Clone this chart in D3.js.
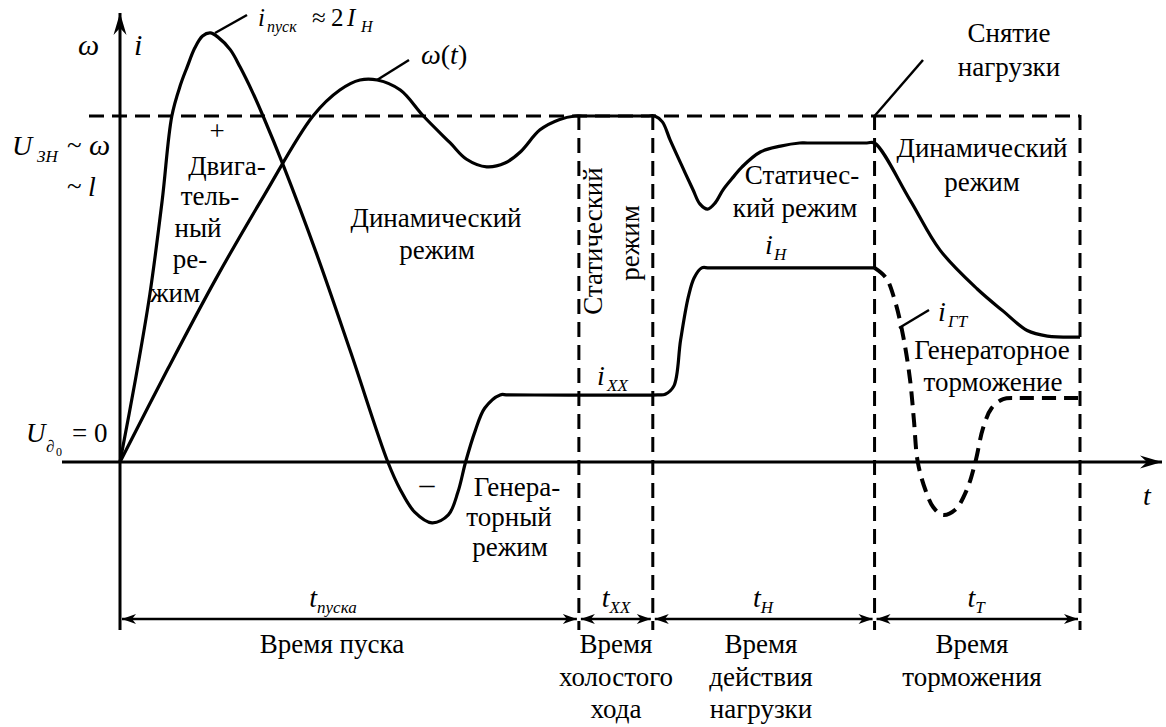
<!DOCTYPE html>
<html><head><meta charset="utf-8">
<script src="https://cdn.jsdelivr.net/npm/d3@7"></script>
</head><body style="margin:0">
<div id="wrap" style="position:relative;width:1166px;height:727px;background:#fff">
  <svg id="chart" width="1166" height="727" style="position:absolute;left:0;top:0"></svg>
  <div id="labels" style="position:absolute;left:0;top:0;width:1166px;height:727px"></div>
</div>
<script>
// time in units of the whole cycle (0..100), values relative to nominal level (1 = U_ЗН)
let phaseBounds = [0, 47.8, 55.5, 78.6, 100];
let phaseSub = ["пуска", "ХХ", "Н", "Т"];

// current i(t): start, generator dip, idle, load
let currentPts = [
  [0, 0], [1.6, 0.237], [3.1, 0.483], [4.4, 0.757], [5.4, 1.0], [6.3, 1.09],
  [7.0, 1.142], [7.8, 1.197], [8.6, 1.231], [9.4, 1.24], [10.2, 1.228],
  [11.5, 1.191], [12.5, 1.142], [13.8, 1.069], [14.9, 1.0], [17.0, 0.858],
  [20.5, 0.6], [24.0, 0.32], [27.9, 0], [29.2, -0.08], [30.7, -0.145],
  [32.5, -0.176], [34.2, -0.153], [35.2, -0.087], [36.0, 0], [37.0, 0.09],
  [38.0, 0.156], [39.6, 0.194], [40.4, 0.194], [56.0, 0.194], [56.8, 0.196],
  [57.7, 0.22], [58.4, 0.353], [59.2, 0.477], [59.8, 0.532], [60.6, 0.561],
  [61.4, 0.561], [77.8, 0.561], [78.6, 0.561]
];

// generator braking current i_ГТ (dashed)
let brakePts = [
  [78.6, 0.561], [79.8, 0.532], [80.7, 0.468], [81.6, 0.361], [82.3, 0.237],
  [82.7, 0.121], [83.1, 0], [83.9, -0.081], [84.7, -0.13], [85.7, -0.153],
  [87.0, -0.138], [88.2, -0.081], [89.1, 0], [89.9, 0.098], [90.8, 0.156],
  [92.0, 0.182], [93.2, 0.185], [94.0, 0.185], [100, 0.185]
];

// speed ω(t)
let omegaPts = [
  [0, 0], [5, 0.27], [10, 0.53], [15, 0.77], [20.1, 1.0],
  [22.9, 1.075], [25.0, 1.104], [26.8, 1.104], [29.2, 1.075], [31.6, 1.0],
  [34.4, 0.922], [36.1, 0.875], [38.2, 0.853], [40.1, 0.864],
  [41.7, 0.896], [43.75, 0.96], [45.8, 0.99], [47.4, 1.0], [48.2, 1.0],
  [54.9, 1.0], [55.7, 1.0], [56.5, 0.983], [57.3, 0.931], [58.5, 0.858],
  [59.7, 0.786], [60.4, 0.746], [61.2, 0.731], [62.0, 0.749], [62.8, 0.786],
  [63.9, 0.824], [64.8, 0.853], [66.7, 0.896], [68.8, 0.913], [70.8, 0.922],
  [71.6, 0.922], [77.8, 0.922], [78.6, 0.922], [82.3, 0.757], [85.4, 0.613],
  [89.3, 0.5], [92.0, 0.436], [94.5, 0.38], [96.6, 0.364], [100, 0.361]
];

let svg = d3.select("#chart");
let labels = d3.select("#labels");

let x = d3.scaleLinear().domain([0, 100]).range([120, 1080]);
let y = d3.scaleLinear().domain([0, 1]).range([462, 116]);

let dimY = 619, bottomY = 630;

let defs = svg.append("defs");
defs.append("marker")
  .attr("id", "axisArrow")
  .attr("markerUnits", "userSpaceOnUse")
  .attr("viewBox", "-22 -8 24 16")
  .attr("markerWidth", 24).attr("markerHeight", 16)
  .attr("refX", 0).attr("refY", 0)
  .attr("orient", "auto")
  .append("path")
  .attr("d", "M0,0 L-22,-6.5 L-15,0 L-22,6.5 Z")
  .attr("fill", "#000");

defs.append("marker")
  .attr("id", "dimArrow")
  .attr("markerUnits", "userSpaceOnUse")
  .attr("viewBox", "-15 -6 16 12")
  .attr("markerWidth", 16).attr("markerHeight", 12)
  .attr("refX", 0).attr("refY", 0)
  .attr("orient", "auto-start-reverse")
  .append("path")
  .attr("d", "M0,0 L-14,-5 L-10,0 L-14,5 Z")
  .attr("fill", "#000");

// nominal level (dashed)
svg.append("line")
  .attr("x1", 89).attr("x2", x(100))
  .attr("y1", y(1)).attr("y2", y(1))
  .attr("stroke", "#000").attr("stroke-width", 3)
  .attr("stroke-dasharray", "15,8");

// phase boundaries (dashed)
svg.selectAll(".bound")
  .data(phaseBounds.slice(1))
  .enter()
  .append("line")
  .attr("class", "bound")
  .attr("x1", d => x(d)).attr("x2", d => x(d))
  .attr("y1", y(1) - 1).attr("y2", bottomY)
  .attr("stroke", "#000").attr("stroke-width", 3)
  .attr("stroke-dasharray", "15,8");

// axes
svg.append("line")
  .attr("x1", 62).attr("x2", 1162)
  .attr("y1", y(0)).attr("y2", y(0))
  .attr("stroke", "#000").attr("stroke-width", 3)
  .attr("marker-end", "url(#axisArrow)");

svg.append("line")
  .attr("x1", x(0)).attr("x2", x(0))
  .attr("y1", bottomY).attr("y2", 13)
  .attr("stroke", "#000").attr("stroke-width", 3)
  .attr("marker-end", "url(#axisArrow)");

// curves
let line = d3.line()
  .x(d => x(d[0]))
  .y(d => y(d[1]))
  .curve(d3.curveCatmullRom.alpha(0.5));

svg.append("path")
  .attr("d", line(currentPts))
  .attr("fill", "none").attr("stroke", "#000").attr("stroke-width", 3.2)
  .attr("stroke-linejoin", "round");

svg.append("path")
  .attr("d", line(omegaPts))
  .attr("fill", "none").attr("stroke", "#000").attr("stroke-width", 3.2)
  .attr("stroke-linejoin", "round");

svg.append("path")
  .attr("d", line(brakePts))
  .attr("fill", "none").attr("stroke", "#000").attr("stroke-width", 4)
  .attr("stroke-dasharray", "14,8");

// leader lines
let leaders = [
  [215, 33, 247, 15],
  [377, 80, 409, 60],
  [x(phaseBounds[3]), y(1), 923, 60],
  [899, 328, 929, 310]
];
svg.selectAll(".leader")
  .data(leaders)
  .enter()
  .append("line")
  .attr("x1", d => d[0]).attr("y1", d => d[1])
  .attr("x2", d => d[2]).attr("y2", d => d[3])
  .attr("stroke", "#000").attr("stroke-width", 2.5);

// dimension lines
for (let k = 0; k < phaseBounds.length - 1; k++) {
  svg.append("line")
    .attr("x1", x(phaseBounds[k]) + 2).attr("x2", x(phaseBounds[k + 1]) - 2)
    .attr("y1", dimY).attr("y2", dimY)
    .attr("stroke", "#000").attr("stroke-width", 2.5)
    .attr("marker-start", "url(#dimArrow)")
    .attr("marker-end", "url(#dimArrow)");
}

// html labels: (xp, yp) is the baseline point, like svg text
function box(xp, yp, size, opts) {
  opts = opts || {};
  let tx = opts.anchor === "middle" ? "-50%" : "0";
  let tr = "translate(" + tx + ", -83.75%)";
  if (opts.rotate) tr = "rotate(-90deg) " + tr;
  let d = labels.append("div")
    .style("position", "absolute")
    .style("left", xp + "px").style("top", yp + "px")
    .style("font-family", "'Liberation Serif'")
    .style("font-size", size + "px")
    .style("line-height", size + "px")
    .style("white-space", "nowrap")
    .style("color", "#000")
    .style("transform-origin", "0 0")
    .style("transform", tr);
  if (opts.italic) d.style("font-style", "italic");
  return d;
}

function txt(xp, yp, s, size, opts) {
  return box(xp, yp, size, opts).text(s);
}

function symbol(xp, yp, main, sub, size, subSize, anchor) {
  let d = box(xp, yp, size, { anchor: anchor, italic: true });
  d.append("span").text(main);
  d.append("span")
    .style("font-size", subSize + "px")
    .style("line-height", "0")
    .style("position", "relative").style("top", "6px")
    .text(sub);
  return d;
}

// axis labels
txt(78, 55, "ω", 30, { italic: true });
txt(134, 55, "i", 30, { italic: true });
txt(1143, 505, "t", 28, { italic: true });

txt(12, 155, "U", 28, { italic: true });
txt(37, 162, "ЗН", 17, { italic: true });
txt(67, 155, "~", 27);
txt(89, 155, "ω", 30, { italic: true });
txt(67, 196, "~", 27);
txt(88, 196, "l", 28, { italic: true });

txt(26, 443, "U", 27, { italic: true });
txt(46, 452, "∂", 17, { italic: true });
txt(56, 456, "0", 12);
txt(72, 443, "= 0", 27);

// peak labels
txt(258, 26, "i", 25, { italic: true });
txt(267, 32, "пуск", 16, { italic: true });
txt(312, 26, "≈", 25);
txt(331, 26, "2", 25);
txt(347, 26, "I", 25, { italic: true });
txt(361, 32, "Н", 16, { italic: true });

let om = box(421, 64, 28);
om.append("span").style("font-style", "italic").text("ω");
om.append("span").text("(");
om.append("span").style("font-style", "italic").text("t");
om.append("span").text(")");

// region captions
let F = 27;
txt(1009, 43, "Снятие", F, { anchor: "middle" });
txt(1009, 77, "нагрузки", F, { anchor: "middle" });
txt(982, 158, "Динамический", F, { anchor: "middle" });
txt(982, 192, "режим", F, { anchor: "middle" });

txt(802, 185, "Статичес-", F, { anchor: "middle" });
txt(795, 218, "кий режим", F, { anchor: "middle" });
txt(765, 254, "i", 28, { italic: true });
txt(774, 260, "Н", 17, { italic: true });

txt(603, 241, "Статический", F, { anchor: "middle", rotate: true });
txt(640, 243, "режим", F, { anchor: "middle", rotate: true });
txt(597, 385, "i", 28, { italic: true });
txt(607, 391, "ХХ", 17, { italic: true });

txt(436, 228, "Динамический", F, { anchor: "middle" });
txt(437, 260, "режим", F, { anchor: "middle" });

txt(217, 141, "+", F, { anchor: "middle" });
txt(227, 176, "Двига-", F, { anchor: "middle" });
txt(210, 206, "тель-", F, { anchor: "middle" });
txt(198, 238, "ный", F, { anchor: "middle" });
txt(190, 269, "ре-", F, { anchor: "middle" });
txt(175, 303, "жим", F, { anchor: "middle" });

txt(427, 494, "–", 30, { anchor: "middle" });
txt(517, 497, "Генера-", F, { anchor: "middle" });
txt(509, 527, "торный", F, { anchor: "middle" });
txt(510, 557, "режим", F, { anchor: "middle" });

txt(992, 360, "Генераторное", F, { anchor: "middle" });
txt(993, 392, "торможение", F, { anchor: "middle" });
txt(938, 321, "i", 28, { italic: true });
txt(948, 327, "ГТ", 17, { italic: true });

// phase durations
let subX = [333, 616, 763, 976];
phaseSub.forEach((s, k) => symbol(subX[k], 607, "t", s, 28, 17, "middle"));

let bottomLines = [
  [["Время пуска"], 332],
  [["Время", "холостого", "хода"], 616],
  [["Время", "действия", "нагрузки"], 761],
  [["Время", "торможения"], 972]
];
bottomLines.forEach(b => {
  b[0].forEach((s, j) => txt(b[1], 654 + j * 32.5, s, F, { anchor: "middle" }));
});
</script>
</body>
</html>
